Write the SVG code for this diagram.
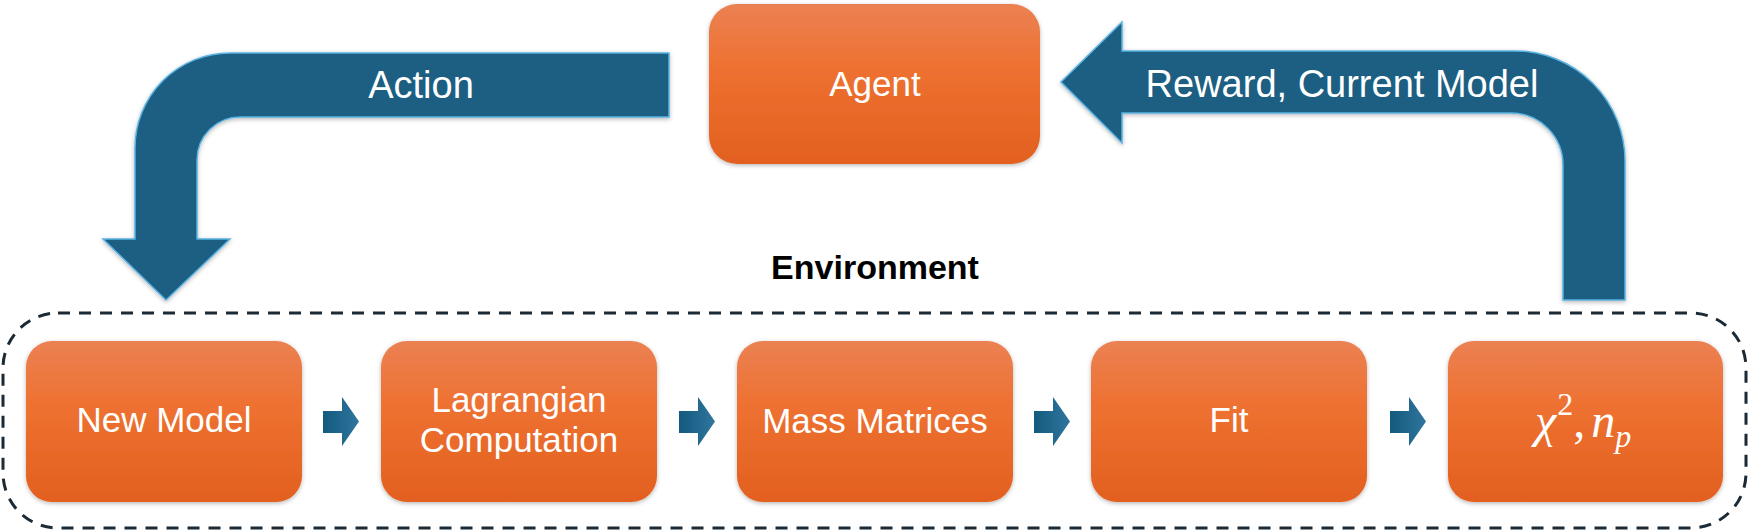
<svg xmlns="http://www.w3.org/2000/svg" width="1748" height="530" viewBox="0 0 1748 530">
<defs>
<linearGradient id="og" x1="0" y1="0" x2="0" y2="1">
<stop offset="0" stop-color="#EB8153"/>
<stop offset="0.4" stop-color="#EE7131"/>
<stop offset="1" stop-color="#E2601F"/>
</linearGradient>
<linearGradient id="ag" x1="0" y1="0" x2="1" y2="0">
<stop offset="0" stop-color="#135A7F"/>
<stop offset="1" stop-color="#2F759D"/>
</linearGradient>
<filter id="sh" x="-10%" y="-10%" width="120%" height="125%">
<feDropShadow dx="0" dy="1.5" stdDeviation="2" flood-color="#000" flood-opacity="0.28"/>
</filter>
</defs>
<style>
.box{fill:url(#og);filter:url(#sh);}
.lbl{font-family:"Liberation Sans",Arial,sans-serif;font-size:35px;fill:#fff;text-anchor:middle;}
.big{fill:#1A5F82;stroke:#5AB2E2;stroke-width:1.5;filter:url(#sh);}
.alab{font-family:"Liberation Sans",Arial,sans-serif;font-size:38px;fill:#fff;text-anchor:middle;}
.sm{fill:url(#ag);}
.env{fill:none;stroke:#1B2A35;stroke-width:3;stroke-dasharray:12 9;}
.math{font-family:"Liberation Serif","Times New Roman",serif;font-style:italic;fill:#fff;}
</style>

<g id="environment">
<rect class="env" x="3" y="313" width="1743" height="215" rx="55" ry="55"/>
<text x="875" y="279" font-family="Liberation Sans, Arial, sans-serif" font-size="34" font-weight="bold" fill="#000" text-anchor="middle">Environment</text>
</g>

<g id="agent">
<rect class="box" x="709" y="4" width="331" height="160" rx="28" ry="28"/>
<text class="lbl" x="875" y="96">Agent</text>
</g>

<g id="new-model">
<rect class="box" x="26" y="341" width="276" height="161" rx="26" ry="26"/>
<text class="lbl" x="164" y="432">New Model</text>
</g>

<g id="lagrangian">
<rect class="box" x="381" y="341" width="276" height="161" rx="26" ry="26"/>
<text class="lbl" x="519" y="412">Lagrangian</text>
<text class="lbl" x="519" y="452">Computation</text>
</g>

<g id="mass-matrices">
<rect class="box" x="737" y="341" width="276" height="161" rx="26" ry="26"/>
<text class="lbl" x="875" y="433">Mass Matrices</text>
</g>

<g id="fit">
<rect class="box" x="1091" y="341" width="276" height="161" rx="26" ry="26"/>
<text class="lbl" x="1229" y="432">Fit</text>
</g>

<g id="chi2">
<rect class="box" x="1448" y="341" width="275" height="161" rx="26" ry="26"/>
<text class="math" x="1535" y="437" font-size="48">χ<tspan font-style="normal" font-size="32" dx="1" dy="-22">2</tspan><tspan font-style="normal" dy="22">,</tspan><tspan dx="6">n</tspan><tspan font-size="32" dy="10">p</tspan></text>
</g>

<g id="connectors">
<path id="action-arrow" class="big" d="M669 53 L230 53 A95 95 0 0 0 135 148 L135 239 L103 239 L166 300 L230 239 L197 239 L197 160 A43 43 0 0 1 240 117 L669 117 Z"/>
<text class="alab" x="421" y="98">Action</text>
<path id="reward-arrow" class="big" d="M1061 82 L1122 22 L1122 51 L1515 51 A110 110 0 0 1 1625 161 L1625 300 L1563 300 L1563 165 A52 52 0 0 0 1511 113 L1122 113 L1122 143 Z"/>
<text class="alab" x="1342" y="97">Reward, Current Model</text>
<path class="sm" d="M323 411 L342 411 L342 397 L359 421.5 L342 446 L342 433 L323 433 Z"/>
<path class="sm" d="M679 411 L698 411 L698 397 L715 421.5 L698 446 L698 433 L679 433 Z"/>
<path class="sm" d="M1034 411 L1053 411 L1053 397 L1070 421.5 L1053 446 L1053 433 L1034 433 Z"/>
<path class="sm" d="M1390 411 L1409 411 L1409 397 L1426 421.5 L1409 446 L1409 433 L1390 433 Z"/>
</g>
</svg>
